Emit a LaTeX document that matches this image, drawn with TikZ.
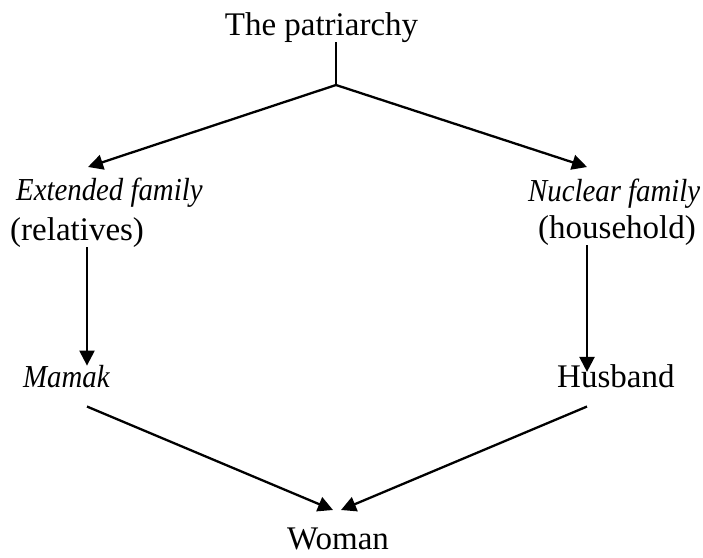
\documentclass[tikz,border=0pt]{standalone}
\usepackage{fontspec}
\setmainfont[ItalicFeatures={FakeStretch=0.9}]{Liberation Serif}
\usetikzlibrary{arrows.meta,positioning}

\begin{document}
\begin{tikzpicture}[x=1pt,y=-1pt,>={Triangle[length=15pt,width=15pt]},
  every node/.style={inner sep=0pt,font=\fontsize{33}{38}\selectfont},
  word/.style={anchor=base west},
  slant/.style={word,font=\fontsize{32}{38}\selectfont\itshape},
  link/.style={->,line width=2.3pt}]

\useasboundingbox (0,0) rectangle (703,557);

\node[anchor=base] (patr) at (321.5,35) {The patriarchy};

\node[slant] (ext) at (16,200) {Extended family};
\node[word] (rel) at (10,240) {(relatives)};
\node[slant] (nuc) at (528,201) {Nuclear family};
\node[word] (hh) at (538,238) {(household)};

\node[slant] (mamak) at (23,387) {Mamak};
\node[word] (hus) at (557,387) {Husband};

\node[anchor=base] (woman) at (338,549) {Woman};

\coordinate (fork) at (336,85);
\coordinate (lcol) at (87,0);
\coordinate (rcol) at (587,0);
\coordinate (ltip) at (88,167);
\coordinate (rtip) at (587,167);
\coordinate (wl) at (333,510);
\coordinate (wr) at (341,510);

\draw[line width=1.5pt] (patr.south -| fork) -- (fork);
\draw[link] (fork) -- (ltip);
\draw[link] (fork) -- (rtip);

\draw[link] (rel.south -| lcol) -- ([yshift=-1pt]mamak.north -| lcol);
\draw[link] (hh.south -| rcol) -- ([yshift=-8pt]hus.north -| rcol);

\draw[link] ([yshift=-19pt]mamak.south -| lcol) -- (wl);
\draw[link] ([yshift=-19pt]hus.south -| rcol) -- (wr);

\end{tikzpicture}
\end{document}
